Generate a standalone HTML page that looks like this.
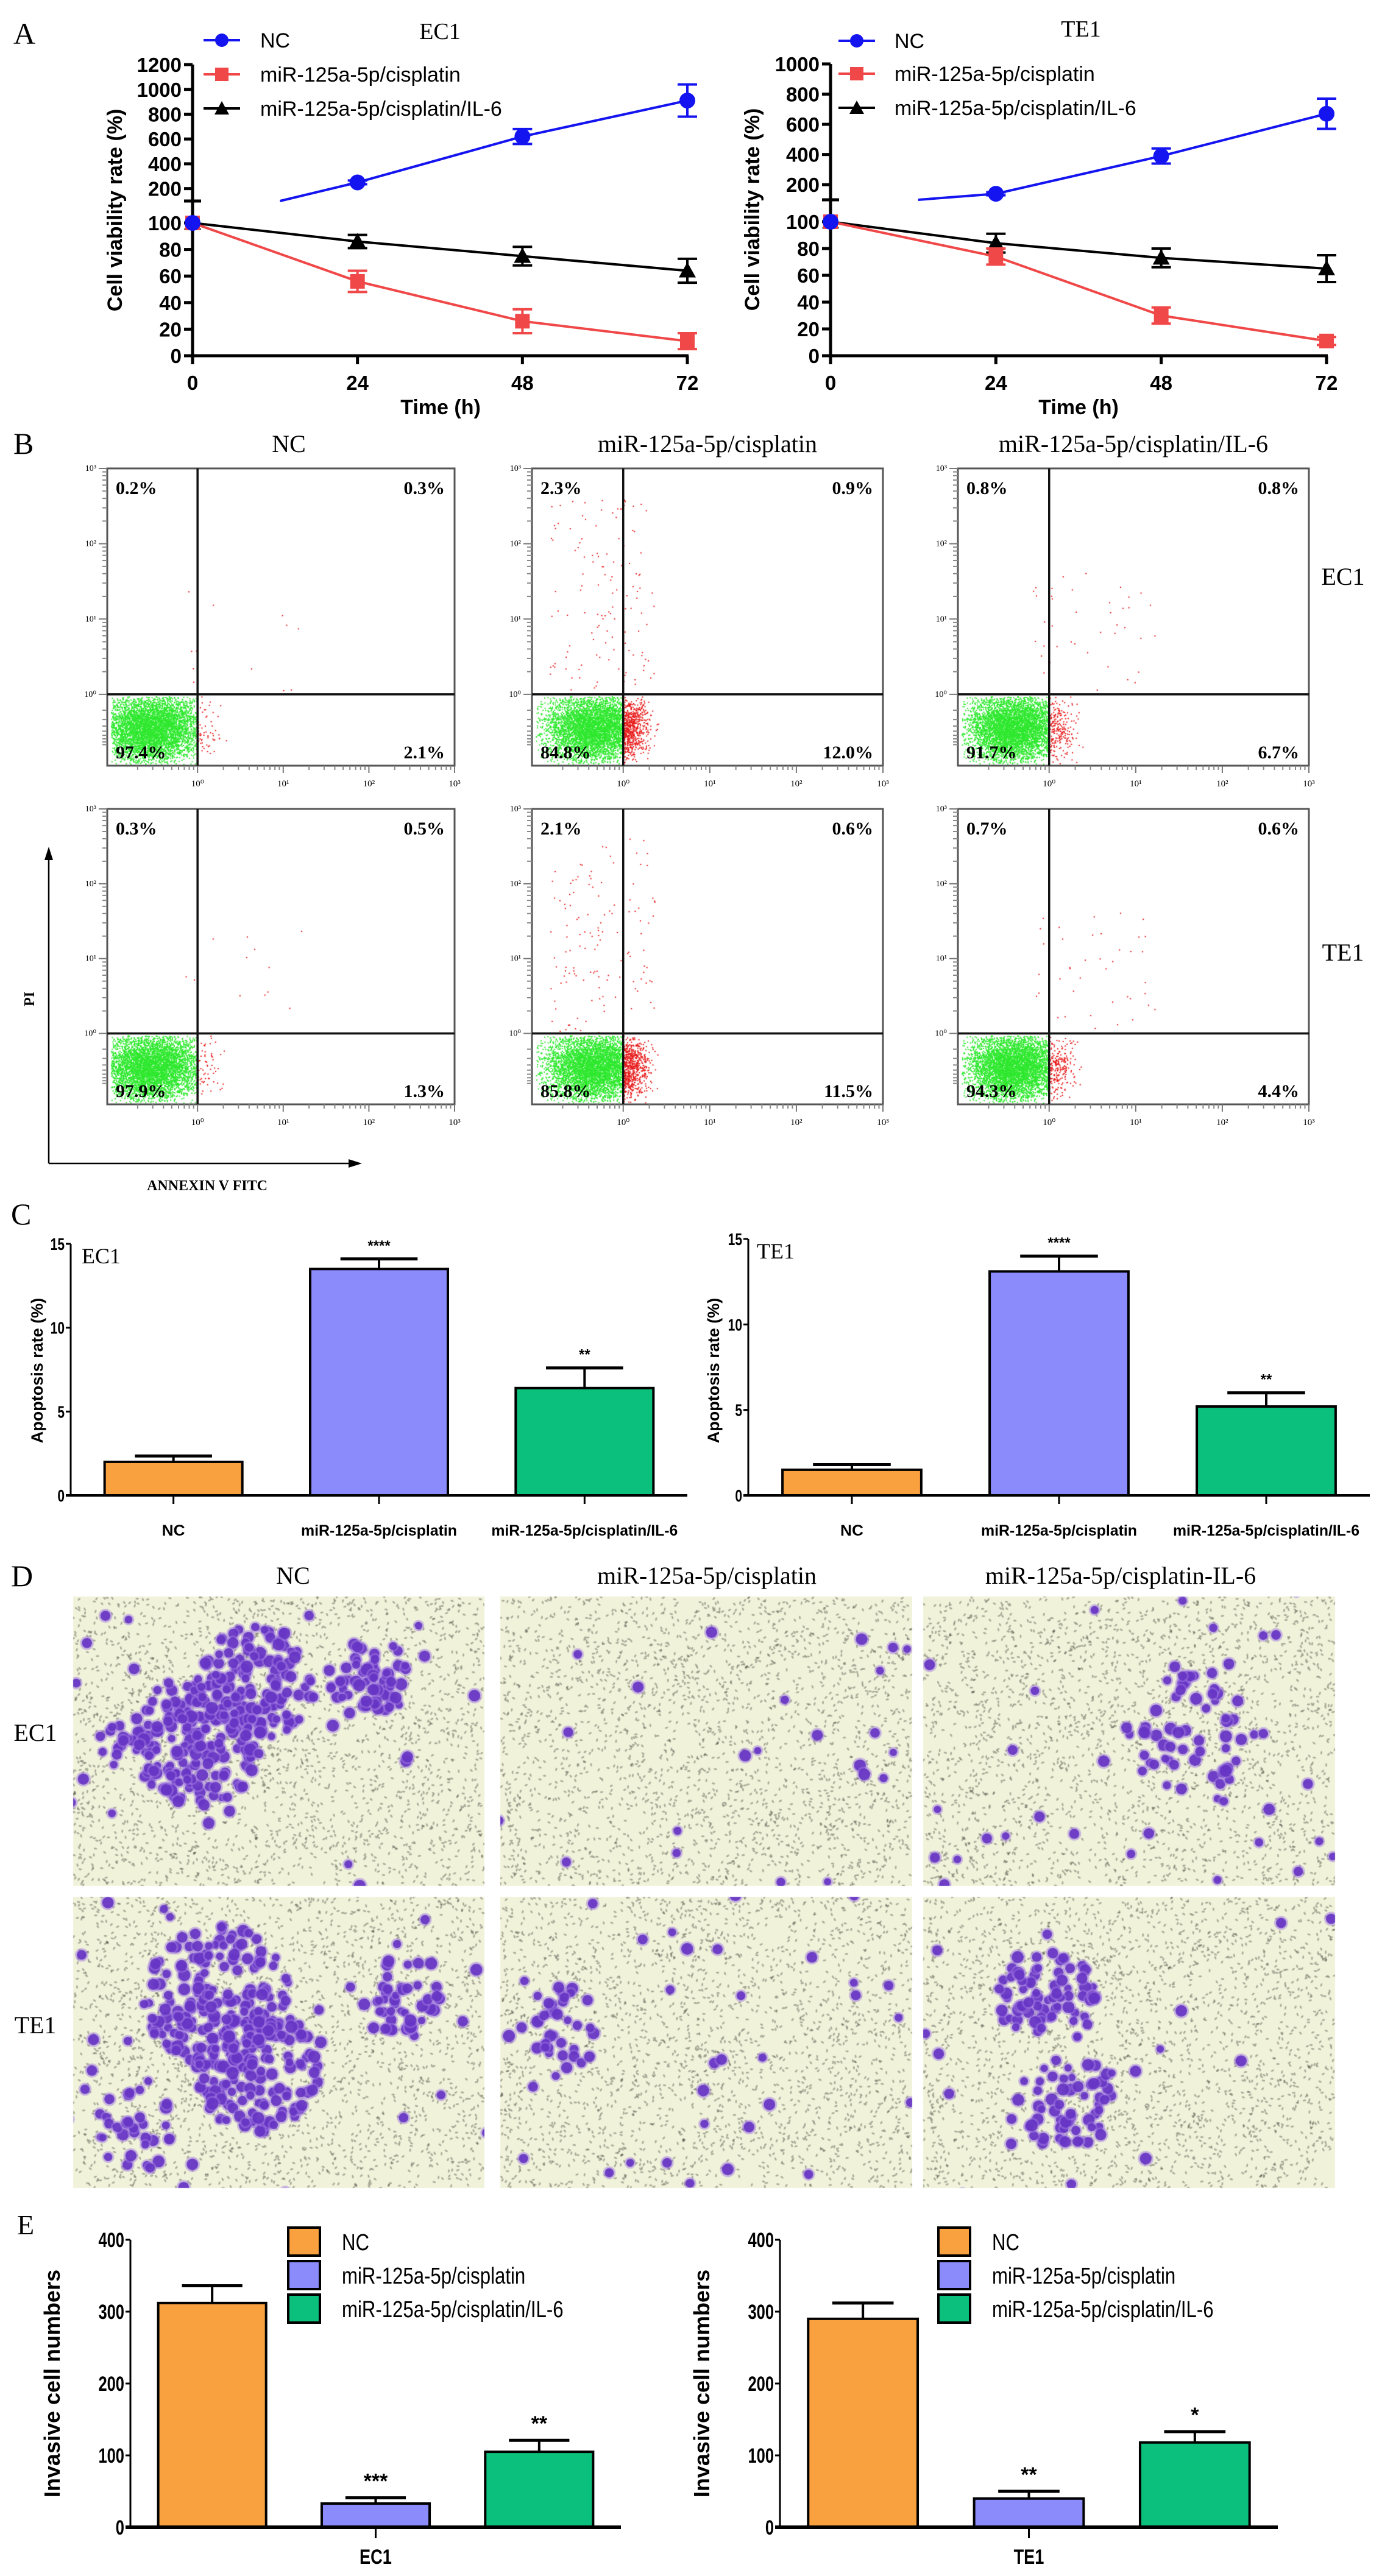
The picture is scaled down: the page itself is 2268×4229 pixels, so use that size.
<!DOCTYPE html>
<html><head><meta charset="utf-8"><title>Figure</title>
<style>
body{margin:0;background:#fff}
#wrap{position:relative;width:2268px;height:4229px;overflow:hidden;background:#fff}
#cv{position:absolute;left:0;top:0}
#fig{position:absolute;left:0;top:0}
.sb{font-family:"Liberation Sans",Arial,sans-serif;font-weight:bold}
.sn{font-family:"Liberation Sans",Arial,sans-serif}
.sf{font-family:"Liberation Serif","Times New Roman",serif}
</style></head>
<body>
<div id="wrap">
<canvas id="cv" width="2268" height="4229"></canvas>
<svg id="fig" width="2268" height="4229" xmlns="http://www.w3.org/2000/svg">
  <text x="22" y="72" class="sf" font-size="50">A</text>
  <text x="22" y="745" class="sf" font-size="50">B</text>
  <text x="18" y="2010" class="sf" font-size="50">C</text>
  <text x="18" y="2604" class="sf" font-size="50">D</text>
  <text x="28" y="3668" class="sf" font-size="46">E</text>

  <text x="722" y="64" class="sf" font-size="38" text-anchor="middle">EC1</text>
  <text x="1774" y="60" class="sf" font-size="38" text-anchor="middle">TE1</text>
  <text transform="translate(200,345) rotate(-90)" class="sb" font-size="34" text-anchor="middle">Cell viability rate (%)</text>
  <text transform="translate(1246,344) rotate(-90)" class="sb" font-size="34" text-anchor="middle">Cell viability rate (%)</text>
  <text x="723" y="680" class="sb" font-size="34" text-anchor="middle">Time (h)</text>
  <text x="1770" y="680" class="sb" font-size="34" text-anchor="middle">Time (h)</text>

  <text x="474" y="742" class="sf" font-size="40" text-anchor="middle">NC</text>
  <text x="1161" y="742" class="sf" font-size="40" text-anchor="middle">miR-125a-5p/cisplatin</text>
  <text x="1860" y="742" class="sf" font-size="40" text-anchor="middle">miR-125a-5p/cisplatin/IL-6</text>
  <text x="2204" y="960" class="sf" font-size="40" text-anchor="middle">EC1</text>
  <text x="2204" y="1577" class="sf" font-size="40" text-anchor="middle">TE1</text>
  <g>
    <line x1="80" y1="1910" x2="80" y2="1400" stroke="#000" stroke-width="2.5"/>
    <polygon points="80,1390 73,1412 87,1412" fill="#000"/>
    <line x1="80" y1="1910" x2="580" y2="1910" stroke="#000" stroke-width="2.5"/>
    <polygon points="594,1910 572,1903 572,1917" fill="#000"/>
  </g>
  <text transform="translate(56,1640) rotate(-90)" class="sf" font-weight="bold" font-size="24" text-anchor="middle">PI</text>
  <text x="340" y="1954" class="sf" font-weight="bold" font-size="24" text-anchor="middle">ANNEXIN V  FITC</text>

  <text transform="translate(70,2250) rotate(-90)" class="sb" font-size="27" text-anchor="middle">Apoptosis rate (%)</text>
  <text transform="translate(1180,2250) rotate(-90)" class="sb" font-size="27" text-anchor="middle">Apoptosis rate (%)</text>
  <text x="134" y="2074" class="sf" font-size="36">EC1</text>
  <text x="1242" y="2066" class="sf" font-size="36">TE1</text>

  <text x="481" y="2600" class="sf" font-size="40" text-anchor="middle">NC</text>
  <text x="1160" y="2600" class="sf" font-size="40" text-anchor="middle">miR-125a-5p/cisplatin</text>
  <text x="1839" y="2600" class="sf" font-size="40" text-anchor="middle">miR-125a-5p/cisplatin-IL-6</text>
  <text x="58" y="2858" class="sf" font-size="40" text-anchor="middle">EC1</text>
  <text x="58" y="3338" class="sf" font-size="40" text-anchor="middle">TE1</text>

  <text transform="translate(98,3913) rotate(-90)" class="sb" font-size="36" text-anchor="middle">Invasive cell numbers</text>
  <text transform="translate(1164,3913) rotate(-90)" class="sb" font-size="36" text-anchor="middle">Invasive cell numbers</text>
</svg>
</div>
<script>
// ===== Panel A data =====
const timesH = [0, 24, 48, 72];
const xTickLabelsA = ["0", "24", "48", "72"];
const lowTicksA = [0, 20, 40, 60, 80, 100];
const upTicksEC1 = [200, 400, 600, 800, 1000, 1200];
const upTicksTE1 = [200, 400, 600, 800, 1000];
const seriesNamesA = ["NC", "miR-125a-5p/cisplatin", "miR-125a-5p/cisplatin/IL-6"];
const ec1NC = [100, 250, 620, 910];
const ec1NCErr = [0, 15, 60, 130];
const ec1Cis = [100, 56, 26, 11];
const ec1CisErr = [0, 8, 9, 6];
const ec1IL6 = [100, 86, 75, 64];
const ec1IL6Err = [0, 5, 7, 9];
const te1NC = [100, 140, 390, 670];
const te1NCErr = [0, 10, 50, 100];
const te1Cis = [100, 74, 30, 11];
const te1CisErr = [0, 6, 6, 3];
const te1IL6 = [100, 84, 73, 65];
const te1IL6Err = [0, 7, 7, 10];

// ===== Panel C data =====
const groupsC = ["NC", "miR-125a-5p/cisplatin", "miR-125a-5p/cisplatin/IL-6"];
const ticksC = [0, 5, 10, 15];
const ec1Apop = [2.0, 13.5, 6.4];
const ec1ApopErr = [0.35, 0.6, 1.2];
const ec1ApopStars = ["", "****", "**"];
const te1Apop = [1.5, 13.1, 5.2];
const te1ApopErr = [0.3, 0.9, 0.8];
const te1ApopStars = ["", "****", "**"];

// ===== Panel E data =====
const ticksE = [0, 100, 200, 300, 400];
const ec1Inv = [312, 33, 105];
const ec1InvErr = [24, 8, 16];
const ec1InvStars = ["", "***", "**"];
const te1Inv = [290, 40, 118];
const te1InvErr = [22, 10, 15];
const te1InvStars = ["", "**", "*"];

// ===== Panel B percentages =====
const flowPctEC1 = [["0.2%","0.3%","97.4%","2.1%"],["2.3%","0.9%","84.8%","12.0%"],["0.8%","0.8%","91.7%","6.7%"]];
const flowPctTE1 = [["0.3%","0.5%","97.9%","1.3%"],["2.1%","0.6%","85.8%","11.5%"],["0.7%","0.6%","94.3%","4.4%"]];

const NS = "http://www.w3.org/2000/svg";
const svg = document.getElementById("fig");
function el(tag, attrs, parent) {
  const e = document.createElementNS(NS, tag);
  for (const k in attrs) e.setAttribute(k, attrs[k]);
  (parent || svg).appendChild(e);
  return e;
}
function txt(x, y, s, cls, size, anchor, parent) {
  const t = el("text", {x: x, y: y, class: cls, "font-size": size, "text-anchor": anchor || "start"}, parent);
  t.textContent = s;
  return t;
}
const COLORS = {blue: "#1414f0", red: "#f04848", black: "#000", orange: "#f9a03f", violet: "#8b8bfb", green: "#0bbf7d"};

// ================= PANEL A =================
function drawLineChart(cfg) {
  const g = el("g", {});
  
  
  const xs = t => cfg.ax + (t / 72) * (cfg.xr - cfg.ax);
  const yl = v => cfg.y0 - v * cfg.kl;
  const yu = v => cfg.brk - (v - 100) * cfg.ku;
  const yax = el("line", {x1: cfg.ax, y1: cfg.top, x2: cfg.ax, y2: cfg.y0, stroke: "#000", "stroke-width": 5}, g);
  
  
  const xax = el("line", {x1: cfg.ax - 2, y1: cfg.y0, x2: cfg.xr + 2, y2: cfg.y0, stroke: "#000", "stroke-width": 5}, g);
  
  
  const brk = el("line", {x1: cfg.ax - 14, y1: cfg.brk, x2: cfg.ax + 14, y2: cfg.brk, stroke: "#000", "stroke-width": 5}, g);
  
  
  lowTicksA.forEach(v => {
    el("line", {x1: cfg.ax - 14, y1: yl(v), x2: cfg.ax, y2: yl(v), stroke: "#000", "stroke-width": 5}, g);
    const t = txt(cfg.ax - 18, yl(v) + 12, String(v), "sb", 33, "end", g);
    
    
  });
  cfg.upTicks.forEach(v => {
    el("line", {x1: cfg.ax - 14, y1: yu(v), x2: cfg.ax, y2: yu(v), stroke: "#000", "stroke-width": 5}, g);
    const t = txt(cfg.ax - 18, yu(v) + 12, String(v), "sb", 33, "end", g);
    
    
  });
  timesH.forEach((t, i) => {
    el("line", {x1: xs(t), y1: cfg.y0, x2: xs(t), y2: cfg.y0 + 14, stroke: "#000", "stroke-width": 5}, g);
    const lab = txt(xs(t), cfg.y0 + 56, xTickLabelsA[i], "sb", 33, "middle", g);
    
    
  });

  function series(vals, errs, color, marker, upper, sname) {
    const sg = el("g", {}, g);
    
    
    const yf = (v, i) => upper && i > 0 ? yu(v) : yl(v);
    let d = "";
    vals.forEach((v, i) => {
      if (upper && i === 0) {
        d += "M" + xs(timesH[0] + (timesH[1] - timesH[0]) * 0.53) + "," + cfg.brk;
      } else {
        d += (d ? "L" : "M") + xs(timesH[i]) + "," + yf(v, i);
      }
    });
    const path = el("path", {d: d, fill: "none", stroke: color, "stroke-width": 4}, sg);
    
    
    vals.forEach((v, i) => {
      const x = xs(timesH[i]);
      const y = yf(v, i);
      const e = errs[i];
      if (e > 0) {
        const y1 = upper ? yu(v + e) : yl(v + e);
        const y2 = upper ? yu(v - e) : yl(v - e);
        el("line", {x1: x, y1: y1, x2: x, y2: y2, stroke: color, "stroke-width": 4}, sg);
        el("line", {x1: x - 16, y1: y1, x2: x + 16, y2: y1, stroke: color, "stroke-width": 4}, sg);
        el("line", {x1: x - 16, y1: y2, x2: x + 16, y2: y2, stroke: color, "stroke-width": 4}, sg);
      }
      let m;
      if (marker === "circle") m = el("circle", {cx: x, cy: y, r: 13, fill: color}, sg);
      else if (marker === "square") m = el("rect", {x: x - 12, y: y - 12, width: 24, height: 24, fill: color}, sg);
      else m = el("polygon", {points: (x) + "," + (y - 14) + " " + (x - 14) + "," + (y + 11) + " " + (x + 14) + "," + (y + 11), fill: color}, sg);
      
      
    });
  }
  series(cfg.il6, cfg.il6Err, COLORS.black, "tri", false, "series-il6");
  series(cfg.cis, cfg.cisErr, COLORS.red, "square", false, "series-cisplatin");
  series(cfg.nc, cfg.ncErr, COLORS.blue, "circle", true, "series-nc");
  const colors = [COLORS.blue, COLORS.red, COLORS.black];
  const marks = ["circle", "square", "tri"];
  cfg.legY.forEach((ly, i) => {
    const lg = el("g", {}, g);
    
    
    el("line", {x1: cfg.legX, y1: ly, x2: cfg.legX + 60, y2: ly, stroke: colors[i], "stroke-width": 4}, lg);
    const mx = cfg.legX + 30;
    if (marks[i] === "circle") el("circle", {cx: mx, cy: ly, r: 11, fill: colors[i]}, lg);
    else if (marks[i] === "square") el("rect", {x: mx - 11, y: ly - 11, width: 22, height: 22, fill: colors[i]}, lg);
    else el("polygon", {points: mx + "," + (ly - 12) + " " + (mx - 12) + "," + (ly + 10) + " " + (mx + 12) + "," + (ly + 10), fill: colors[i]}, lg);
    txt(cfg.legTX, ly + 12, seriesNamesA[i], "sn", 34, "start", lg);
  });
}
drawLineChart({name: "a-ec1-chart", ax: 316, xr: 1128, y0: 584, kl: 2.18, brk: 330, ku: 0.2036, top: 106,
  upTicks: upTicksEC1, nc: ec1NC, ncErr: ec1NCErr, cis: ec1Cis, cisErr: ec1CisErr, il6: ec1IL6, il6Err: ec1IL6Err,
  legX: 334, legTX: 427, legY: [66, 122, 178]});
drawLineChart({name: "a-te1-chart", ax: 1363, xr: 2177, y0: 584, kl: 2.2, brk: 328, ku: 0.2478, top: 105,
  upTicks: upTicksTE1, nc: te1NC, ncErr: te1NCErr, cis: te1Cis, cisErr: te1CisErr, il6: te1IL6, il6Err: te1IL6Err,
  legX: 1376, legTX: 1468, legY: [67, 121, 177]});

// ================= BAR CHARTS =================
function drawBars(cfg) {
  const g = el("g", {});
  
  
  const ys = v => cfg.y0 - (v / cfg.max) * (cfg.y0 - cfg.yTop);
  const band = (cfg.xr - cfg.ax) / cfg.vals.length;
  const fills = [COLORS.orange, COLORS.violet, COLORS.green];
  cfg.vals.forEach((v, i) => {
    const cx = cfg.ax + band * (i + 0.5);
    const w = band * cfg.wf;
    const top = ys(v);
    const e = ys(v + cfg.errs[i]);
    const eg = el("line", {x1: cx, y1: top, x2: cx, y2: e, stroke: "#000", "stroke-width": 4}, g);
    
    
    el("line", {x1: cx - w * 0.28, y1: e, x2: cx + w * 0.28, y2: e, stroke: "#000", "stroke-width": 5}, g);
    const r = el("rect", {x: cx - w / 2, y: top, width: w, height: cfg.y0 - top, fill: fills[i], stroke: "#000", "stroke-width": 4}, g);
    
    
    if (cfg.stars[i]) {
      const s = txt(cx, e - cfg.starGap, cfg.stars[i], "sb", cfg.starSize, "middle", g);
      
      
    }
    if (cfg.catLabels) {
      el("line", {x1: cx, y1: cfg.y0, x2: cx, y2: cfg.y0 + 14, stroke: "#000", "stroke-width": 3}, g);
      const l = txt(cx, cfg.y0 + 66, cfg.catLabels[i], "sb", 25, "middle", g);
      l.setAttribute("textLength", cfg.catW[i]);
      l.setAttribute("lengthAdjust", "spacingAndGlyphs");
      
      
    }
  });
  const yax = el("line", {x1: cfg.ax, y1: cfg.yTop, x2: cfg.ax, y2: cfg.y0, stroke: "#000", "stroke-width": 3}, g);
  
  
  const xax = el("line", {x1: cfg.ax - 8, y1: cfg.y0, x2: cfg.xr, y2: cfg.y0, stroke: "#000", "stroke-width": cfg.xw}, g);
  
  
  cfg.ticks.forEach(v => {
    el("line", {x1: cfg.ax - 8, y1: ys(v), x2: cfg.ax, y2: ys(v), stroke: "#000", "stroke-width": 3}, g);
    const t = txt(cfg.ax - 10, ys(v) + cfg.tickSize * 0.36, String(v), "sb", cfg.tickSize, "end", g);
    t.setAttribute("transform", "translate(" + (cfg.ax - 10) + ",0) scale(0.75,1) translate(" + (-(cfg.ax - 10)) + ",0)");
    
    
  });
  if (cfg.groupLabel) {
    const cx = cfg.ax + band * 1.5;
    el("line", {x1: cx, y1: cfg.y0, x2: cx, y2: cfg.y0 + 18, stroke: "#000", "stroke-width": 3}, g);
    const l = txt(cx, cfg.y0 + 60, cfg.groupLabel, "sb", 34, "middle", g);
    l.setAttribute("transform", "translate(" + cx + ",0) scale(0.8,1) translate(" + (-cx) + ",0)");
    
    
  }
  if (cfg.legX) {
    groupsC.forEach((name, i) => {
      const lg = el("g", {}, g);
      
      
      const ly = cfg.legY[i];
      el("rect", {x: cfg.legX, y: ly - 24, width: 52, height: 46, fill: fills[i], stroke: "#000", "stroke-width": 4}, lg);
      const t = txt(cfg.legX + 88, ly + 13, name, "sn", 38, "start", lg);
      t.setAttribute("transform", "translate(" + (cfg.legX + 88) + ",0) scale(0.82,1) translate(" + (-(cfg.legX + 88)) + ",0)");
    });
  }
}
drawBars({name: "c-ec1-chart", ax: 116, xr: 1128, y0: 2455, yTop: 2042, max: 15, vals: ec1Apop, errs: ec1ApopErr, stars: ec1ApopStars,
  ticks: ticksC, wf: 0.67, tickSize: 28, xw: 4, starGap: 14, starSize: 24, catLabels: groupsC, catW: [38, 256, 306]});
drawBars({name: "c-te1-chart", ax: 1228, xr: 2248, y0: 2455, yTop: 2034, max: 15, vals: te1Apop, errs: te1ApopErr, stars: te1ApopStars,
  ticks: ticksC, wf: 0.67, tickSize: 28, xw: 4, starGap: 14, starSize: 24, catLabels: groupsC, catW: [38, 256, 306]});
drawBars({name: "e-ec1-chart", ax: 214, xr: 1019, y0: 4149, yTop: 3677, max: 400, vals: ec1Inv, errs: ec1InvErr, stars: ec1InvStars,
  ticks: ticksE, wf: 0.66, tickSize: 34, xw: 6, starGap: 16, starSize: 34, groupLabel: "EC1", legX: 473, legY: [3681, 3736, 3791]});
drawBars({name: "e-te1-chart", ax: 1280, xr: 2097, y0: 4149, yTop: 3677, max: 400, vals: te1Inv, errs: te1InvErr, stars: te1InvStars,
  ticks: ticksE, wf: 0.66, tickSize: 34, xw: 6, starGap: 16, starSize: 34, groupLabel: "TE1", legX: 1540, legY: [3681, 3736, 3791]});

// ================= PANEL B frames =================
const flowCols = [[176, 746], [873, 1449], [1572, 2148]];
const flowRows = [[769, 1257], [1328, 1813]];
const decadeLabels = ["10\u2070", "10\u00b9", "10\u00b2", "10\u00b3"];
function drawFlowFrame(bx1, bx2, by1, by2, pcts, name) {
  const g = el("g", {});
  
  
  const w = bx2 - bx1, h = by2 - by1;
  const vx = bx1 + 0.26 * w, hy = by1 + 0.76 * h;
  el("rect", {x: bx1, y: by1, width: w, height: h, fill: "none", stroke: "#555", "stroke-width": 3}, g);
  el("line", {x1: vx, y1: by1, x2: vx, y2: by2, stroke: "#111", "stroke-width": 3.5}, g);
  el("line", {x1: bx1, y1: hy, x2: bx2, y2: hy, stroke: "#111", "stroke-width": 3.5}, g);
  const dec = (hy - by1) / 3;
  for (let d = 0; d < 4; d++) {
    const y = hy - d * dec;
    el("line", {x1: bx1 - 14, y1: y, x2: bx1, y2: y, stroke: "#777", "stroke-width": 2}, g);
    for (let m = 2; m < 10 && d < 3; m++) {
      const yy = y - Math.log10(m) * dec;
      el("line", {x1: bx1 - 8, y1: yy, x2: bx1, y2: yy, stroke: "#888", "stroke-width": 2}, g);
    }
    txt(bx1 - 18, y + 4, decadeLabels[d], "sf", 14, "end", g);
  }
  for (let m = 2; m < 10; m++) {
    const yy = hy + Math.log10(m) * dec * 0.7;
    if (yy < by2) el("line", {x1: bx1 - 8, y1: yy, x2: bx1, y2: yy, stroke: "#888", "stroke-width": 2}, g);
  }
  const xdec = (bx2 - vx) / 3;
  for (let d = 0; d < 4; d++) {
    const x = vx + d * xdec;
    el("line", {x1: x, y1: by2, x2: x, y2: by2 + 12, stroke: "#777", "stroke-width": 2}, g);
    txt(x, by2 + 34, decadeLabels[d], "sf", 15, "middle", g);
    for (let m = 2; m < 10; m++) {
      const xx = x - (1 - Math.log10(m)) * xdec;
      if (xx > bx1 + 20) el("line", {x1: xx, y1: by2, x2: xx, y2: by2 + 7, stroke: "#888", "stroke-width": 2}, g);
    }
  }
  const p = [[bx1 + 14, by1 + 42, "start"], [bx2 - 16, by1 + 42, "end"], [bx1 + 14, by2 - 12, "start"], [bx2 - 16, by2 - 12, "end"]];
  pcts.forEach((s, i) => {
    const t = txt(p[i][0], p[i][1], s, "sf", 30, p[i][2], g);
    t.setAttribute("font-weight", "bold");
    
    
  });
}
flowCols.forEach((c, ci) => {
  drawFlowFrame(c[0], c[1], flowRows[0][0], flowRows[0][1], flowPctEC1[ci], "flow-ec1-" + ci);
  drawFlowFrame(c[0], c[1], flowRows[1][0], flowRows[1][1], flowPctTE1[ci], "flow-te1-" + ci);
});

// ================= Raster drawing (canvas) =================
const ctx = document.getElementById("cv").getContext("2d");
let seed = 12345;
function rnd() { seed = (seed * 1103515245 + 12345) % 2147483648; return seed / 2147483648; }
function gauss() { let u = 0; for (let i = 0; i < 4; i++) u += rnd(); return (u - 2) / 0.577; }

const flowStyle = [[0.13, 0.07, 60, 12], [0.18, 0.07, 650, 130], [0.16, 0.065, 240, 40]];
flowCols.forEach((c, ci) => {
  flowRows.forEach((r, ri) => {
    const bx1 = c[0], bx2 = c[1], by1 = r[0], by2 = r[1];
    const w = bx2 - bx1, h = by2 - by1;
    const vx = bx1 + 0.26 * w, hy = by1 + 0.76 * h;
    const st = flowStyle[ci];
    ctx.fillStyle = "#2ee82e";
    for (let i = 0; i < 5500; i++) {
      const x = bx1 + st[0] * w + gauss() * st[1] * w;
      const y = by1 + 0.875 * h + gauss() * 0.055 * h;
      if (x < bx1 + 6 || x > vx - 1 || y < hy + 3 || y > by2 - 3) continue;
      ctx.fillRect(x, y, 2, 2);
    }
    ctx.fillStyle = "#e81818";
    for (let i = 0; i < st[2]; i++) {
      const x = vx + Math.abs(gauss()) * 0.035 * w;
      const y = by1 + 0.875 * h + gauss() * 0.05 * h;
      if (y < hy + 3 || y > by2 - 3 || x > bx2) continue;
      ctx.fillRect(x, y, 2, 2);
    }
    for (let i = 0; i < st[3]; i++) {
      let x, y;
      if (ci === 1) {
        x = bx1 + 0.05 * w + rnd() * 0.3 * w;
        y = by1 + 0.1 * h + rnd() * 0.66 * h;
      } else {
        x = vx - 0.05 * w + rnd() * 0.35 * w;
        y = by1 + 0.35 * h + rnd() * 0.4 * h;
      }
      if (x < bx1 + 4 || x > bx2 - 4) continue;
      ctx.fillRect(x, y, 2, 2);
    }
  });
});

const imgCols = [[120, 795], [821, 1497], [1515, 2191]];
const imgRows = [[2621, 3096], [3114, 3592]];
const imgClusters = [
  [[[0.3, 0.5, 0.16, 180], [0.45, 0.3, 0.14, 120], [0.72, 0.28, 0.1, 60], [0.1, 0.5, 0.06, 12], [0.5, 0.5, 0.6, 30]], [[0.5, 0.5, 0.6, 35]], [[0.65, 0.45, 0.16, 55], [0.5, 0.5, 0.6, 45]]],
  [[[0.35, 0.35, 0.18, 170], [0.45, 0.6, 0.15, 130], [0.8, 0.35, 0.1, 40], [0.15, 0.8, 0.1, 30], [0.5, 0.5, 0.6, 40]], [[0.15, 0.45, 0.1, 35], [0.5, 0.5, 0.6, 45]], [[0.3, 0.35, 0.12, 70], [0.35, 0.7, 0.12, 55], [0.5, 0.5, 0.6, 35]]]
];
imgRows.forEach((r, ri) => {
  imgCols.forEach((c, ci) => {
    const x0 = c[0], y0 = r[0], w = c[1] - c[0], h = r[1] - r[0];
    ctx.save();
    ctx.beginPath(); ctx.rect(x0, y0, w, h); ctx.clip();
    ctx.fillStyle = "#f0f2da";
    ctx.fillRect(x0, y0, w, h);
    ctx.fillStyle = "rgba(70,70,60,0.4)";
    for (let i = 0; i < 2400; i++) {
      const x = x0 + rnd() * w, y = y0 + rnd() * h;
      ctx.beginPath();
      ctx.ellipse(x, y, 1.5, 2.8, rnd() * 3, 0, 6.283);
      ctx.fill();
    }
    imgClusters[ri][ci].forEach(cl => {
      for (let i = 0; i < cl[3]; i++) {
        const a = rnd() * 6.283, rr = Math.sqrt(rnd()) * cl[2];
        const x = x0 + (cl[0] + Math.cos(a) * rr) * w;
        const y = y0 + (cl[1] + Math.sin(a) * rr * w / h) * h;
        const rad = 6 + rnd() * 4;
        ctx.fillStyle = "rgba(160,120,225,0.5)";
        ctx.beginPath(); ctx.arc(x, y, rad + 3, 0, 6.283); ctx.fill();
        ctx.fillStyle = "rgba(100,50,195,0.9)";
        ctx.beginPath(); ctx.arc(x, y, rad, 0, 6.283); ctx.fill();
      }
    });
    ctx.restore();
  });
});
</script>
</body></html>
